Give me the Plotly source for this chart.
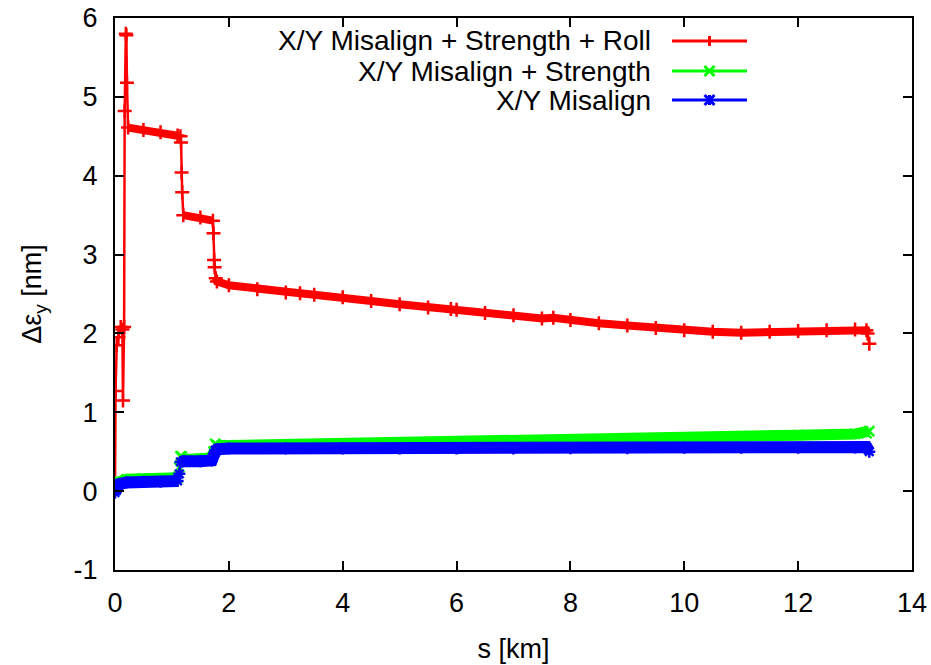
import plotly.graph_objects as go

# ---------------- data ----------------
roll_s = [0.0, 0.01, 0.03, 0.06, 0.10, 0.13, 0.14, 0.16, 0.17, 0.19, 0.20, 0.21, 0.23,
          0.5, 0.8, 1.1, 1.15, 1.16, 1.17, 1.18, 1.20, 1.5, 1.72, 1.73, 1.74, 1.75, 1.77, 1.79,
          2.0, 2.5, 3.0, 3.25, 3.5, 4.0, 4.5, 5.0, 5.5, 5.9, 6.0, 6.5, 7.0, 7.5, 7.7, 8.0, 8.5,
          9.0, 9.5, 10.0, 10.5, 11.0, 11.5, 12.0, 12.5, 13.0, 13.2, 13.22, 13.25]
roll_v = [0.02, 1.27, 1.85, 1.95, 2.08, 2.05, 1.15, 2.08, 4.82, 5.80, 5.78, 5.18, 4.61,
          4.58, 4.55, 4.51, 4.50, 4.42, 4.04, 3.79, 3.50, 3.47, 3.43, 3.27, 2.93, 2.84, 2.70, 2.66,
          2.61, 2.56, 2.52, 2.51, 2.49, 2.46, 2.41, 2.37, 2.33, 2.31, 2.30, 2.26, 2.23, 2.19, 2.20, 2.17, 2.13,
          2.10, 2.07, 2.04, 2.02, 2.01, 2.02, 2.03, 2.04, 2.05, 2.04, 2.00, 1.87]

strength_s = [0.0, 0.03, 0.08, 0.2, 0.5, 0.8, 1.1, 1.13, 1.15, 1.17, 1.2, 1.25, 1.5, 1.7,
              1.73, 1.76, 1.8, 2.0, 3.0, 4.0, 5.0, 6.0, 7.0, 8.0, 9.0, 10.0, 11.0, 12.0,
              13.0, 13.2, 13.25]
strength_v = [0.02, 0.08, 0.12, 0.15, 0.16, 0.16, 0.17, 0.30, 0.44, 0.44, 0.41, 0.40, 0.41, 0.42,
              0.50, 0.60, 0.58, 0.58, 0.59, 0.60, 0.61, 0.62, 0.635, 0.65, 0.665, 0.68, 0.695, 0.71,
              0.725, 0.735, 0.76]

misalign_s = [0.0, 0.03, 0.08, 0.2, 0.5, 0.8, 1.1, 1.13, 1.15, 1.2, 1.5, 1.7,
              1.73, 1.76, 1.8, 2.0, 3.0, 4.0, 5.0, 6.0, 7.0, 8.0, 9.0, 10.0, 11.0, 12.0,
              13.0, 13.2, 13.25]
misalign_v = [-0.02, 0.05, 0.09, 0.11, 0.12, 0.12, 0.13, 0.22, 0.37, 0.38, 0.38, 0.39,
              0.45, 0.52, 0.53, 0.54, 0.54, 0.54, 0.54, 0.54, 0.54, 0.545, 0.545, 0.55, 0.55, 0.55,
              0.555, 0.56, 0.50]

series_names = ["X/Y Misalign + Strength + Roll", "X/Y Misalign + Strength", "X/Y Misalign"]
series_colors = ["#ff0000", "#00ff00", "#0000ff"]

x_ticks = [0, 2, 4, 6, 8, 10, 12, 14]
y_ticks = [-1, 0, 1, 2, 3, 4, 5, 6]

FONT = "Liberation Sans, Arial, Helvetica, sans-serif"
FS = 27


def banded(s, v, slope_max):
    """Break the thick band where the curve jumps steeply (jumps drawn thin)."""
    xs, ys = [s[0]], [v[0]]
    for i in range(1, len(s)):
        slope = abs(v[i] - v[i - 1]) / max(s[i] - s[i - 1], 1e-9)
        if slope > slope_max:
            xs.append(None)
            ys.append(None)
        xs.append(s[i])
        ys.append(v[i])
    return xs, ys


fig = go.Figure()

data = [(roll_s, roll_v, 8, "cross-thin-open"),
        (strength_s, strength_v, 11, "x-thin-open"),
        (misalign_s, misalign_v, 12, "asterisk-open")]

for (s, v, band_w, sym), name, col in zip(data, series_names, series_colors):
    bx, by = banded(s, v, 3.0)
    fig.add_trace(go.Scatter(x=bx, y=by, mode="lines", line=dict(color=col, width=band_w),
                             connectgaps=False, showlegend=False, hoverinfo="skip"))
    fig.add_trace(go.Scatter(x=s, y=v, mode="lines+markers", name=name,
                             line=dict(color=col, width=2.5),
                             marker=dict(symbol=sym, size=10, color=col,
                                         line=dict(color=col, width=2.5)),
                             showlegend=False))

# ---------------- layout ----------------
W, H = 931, 665
L, T = 115, 18
R = W - 912
B = H - 570
PW, PH = W - L - R, H - T - B


def px(xs):
    """screen x -> paper fraction"""
    return (xs - L) / PW


def py(ys):
    """screen y -> paper fraction"""
    return (H - B - ys) / PH


shapes = []
annotations = []
key_x0, key_x1 = 672, 747
key_xc = (key_x0 + key_x1) / 2
rows_y = [41, 71, 100]
for name, col, yrow, k in zip(series_names, series_colors, rows_y, range(3)):
    annotations.append(dict(x=px(653), y=py(yrow), xref="paper", yref="paper",
                            text=name, showarrow=False, xanchor="right", yanchor="middle",
                            font=dict(family=FONT, size=28, color="black")))
    shapes.append(dict(type="line", xref="paper", yref="paper",
                       x0=px(key_x0), x1=px(key_x1), y0=py(yrow), y1=py(yrow),
                       line=dict(color=col, width=3)))
    d = 5
    segs = []
    if k in (0, 2):
        segs.append((key_xc, yrow - d, key_xc, yrow + d))
    if k in (1, 2):
        segs.append((key_xc - d, yrow - d, key_xc + d, yrow + d))
        segs.append((key_xc - d, yrow + d, key_xc + d, yrow - d))
    for (a, b, c, e) in segs:
        shapes.append(dict(type="line", xref="paper", yref="paper",
                           x0=px(a), y0=py(b), x1=px(c), y1=py(e),
                           line=dict(color=col, width=3)))

axis_common = dict(showline=True, linecolor="black", linewidth=2, mirror="allticks",
                   ticks="inside", ticklen=9, tickwidth=2, tickcolor="black",
                   showgrid=False, zeroline=False, ticklabeloverflow="allow",
                   tickfont=dict(family=FONT, size=FS, color="black"))

fig.update_layout(
    width=W, height=H,
    margin=dict(l=L, r=R, t=T, b=B, autoexpand=False),
    paper_bgcolor="white", plot_bgcolor="white",
    showlegend=False,
    shapes=shapes, annotations=annotations,
    xaxis=dict(range=[0, 14], tickvals=x_ticks, ticktext=[str(t) for t in x_ticks],
               ticklabelstandoff=8,
               title=dict(text="s [km]", font=dict(family=FONT, size=FS, color="black"),
                          standoff=22),
               **axis_common),
    yaxis=dict(range=[-1, 6], tickvals=y_ticks, ticktext=[str(t) for t in y_ticks],
               ticklabelstandoff=10,
               title=dict(text="Δε<sub>y</sub> [nm]", font=dict(family=FONT, size=FS, color="black"),
                          standoff=24),
               **axis_common),
)

# remove the page's default body margin so the figure fills the window exactly
fig.write_html("out.html", config={"displayModeBar": False},
               post_script="document.body.style.margin='0';document.body.style.overflow='hidden';")
